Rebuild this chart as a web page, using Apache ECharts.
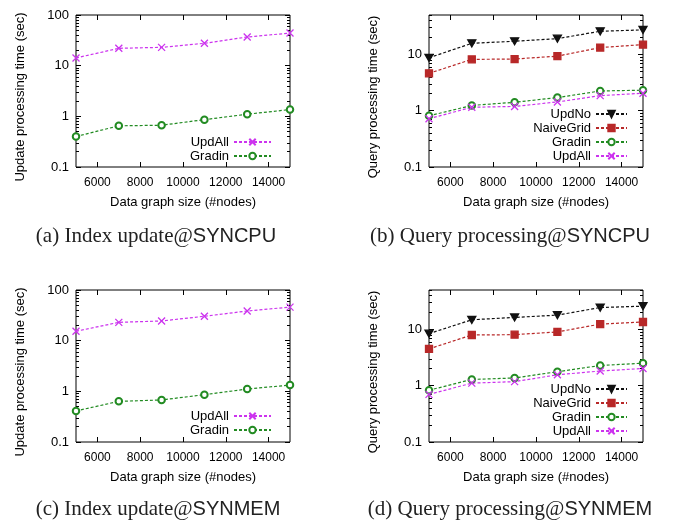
<!DOCTYPE html>
<html><head><meta charset="utf-8">
<script src="https://cdn.jsdelivr.net/npm/echarts@6/dist/echarts.min.js"></script>
<style>html,body{margin:0;padding:0;background:#fff}#c{width:673px;height:524px}</style>
</head><body><div id="c"></div>
<script>
const xNodes = [5000, 7000, 9000, 11000, 13000, 15000];
const xTickLabels = [6000, 8000, 10000, 12000, 14000];
const yMajorTicks = [0.1, 1, 10, 100];
const yMinorTicks = [0.2,0.3,0.4,0.5,0.6,0.7,0.8,0.9,2,3,4,5,6,7,8,9,20,30,40,50,60,70,80,90];

// (a) Index update@SYNCPU
const aUpdAll = [14.2, 22, 23, 27.6, 36.8, 44];
const aGradin = [0.40, 0.65, 0.667, 0.86, 1.10, 1.36];
// (b) Query processing@SYNCPU
const bUpdNo = [8.7, 15.7, 17.1, 19.0, 25.7, 27.2];
const bNaiveGrid = [4.6, 8.15, 8.26, 9.3, 13.2, 14.9];
const bGradin = [0.81, 1.24, 1.41, 1.71, 2.24, 2.31];
const bUpdAll = [0.72, 1.15, 1.19, 1.43, 1.85, 2.04];
// (c) Index update@SYNMEM
const cUpdAll = [15.3, 23, 24.5, 30.3, 38.5, 46];
const cGradin = [0.41, 0.635, 0.675, 0.86, 1.11, 1.33];
// (d) Query processing@SYNMEM
const dUpdNo = [8.4, 14.8, 16.3, 17.9, 24.4, 25.8];
const dNaiveGrid = [4.5, 7.95, 8.05, 9.0, 12.4, 13.5];
const dGradin = [0.83, 1.29, 1.37, 1.77, 2.28, 2.51];
const dUpdAll = [0.70, 1.11, 1.18, 1.56, 1.82, 2.02];

const SANS = 'Liberation Sans';
const STY = {
  UpdAll: {color: '#cc33ee', symbol: 'path://M0,0L10,10M10,0L0,10', size: 7},
  Gradin: {color: '#228b22', symbol: 'emptyCircle', size: 6.5},
  UpdNo: {color: '#111111', symbol: 'path://M0,0L10,0L5,9Z', size: [8, 7]},
  NaiveGrid: {color: '#b82828', symbol: 'rect', size: 7}
};

const panels = [
  {grid: {left: 76, top: 15}, ymax: 100, yName: 'Update processing time (sec)',
   series: [['UpdAll', aUpdAll], ['Gradin', aGradin]],
   legend: {right: 401, top: 135}, iw: 37,
   cap: ['(a) Index update@', 'SYNCPU'], capPos: [156, 226]},
  {grid: {left: 429, top: 15}, ymax: 50, yName: 'Query processing time (sec)',
   series: [['UpdNo', bUpdNo], ['NaiveGrid', bNaiveGrid], ['Gradin', bGradin], ['UpdAll', bUpdAll]],
   legend: {right: 45, top: 107}, iw: 31,
   cap: ['(b) Query processing@', 'SYNCPU'], capPos: [510, 226]},
  {grid: {left: 76, top: 290}, ymax: 100, yName: 'Update processing time (sec)',
   series: [['UpdAll', cUpdAll], ['Gradin', cGradin]],
   legend: {right: 401, top: 409}, iw: 37,
   cap: ['(c) Index update@', 'SYNMEM'], capPos: [158, 499]},
  {grid: {left: 429, top: 290}, ymax: 50, yName: 'Query processing time (sec)',
   series: [['UpdNo', dUpdNo], ['NaiveGrid', dNaiveGrid], ['Gradin', dGradin], ['UpdAll', dUpdAll]],
   legend: {right: 45, top: 382}, iw: 31,
   cap: ['(d) Query processing@', 'SYNMEM'], capPos: [510, 499]}
];

const option = {
  animation: false,
  textStyle: {fontFamily: SANS},
  grid: [], xAxis: [], yAxis: [], series: [], legend: [], title: []
};

panels.forEach((p, k) => {
  option.grid.push({left: p.grid.left, top: p.grid.top, width: 214, height: 152,
    show: true, borderColor: '#000', borderWidth: 1, backgroundColor: 'transparent',
    outerBoundsMode: 'none', containLabel: false});
  const xBase = {type: 'value', gridIndex: k, min: 5000, max: 15000,
    splitLine: {show: false}, axisLine: {show: false}};
  option.xAxis.push(Object.assign({}, xBase, {position: 'bottom',
    name: 'Data graph size (#nodes)', nameLocation: 'middle', nameGap: 29,
    nameTextStyle: {fontSize: 13, color: '#000', fontFamily: SANS},
    axisLabel: {customValues: xTickLabels, fontSize: 12, color: '#000', margin: 10, fontFamily: SANS,
      formatter: v => String(v)},
    axisTick: {customValues: xTickLabels, inside: true, length: 5, lineStyle: {color: '#000'}}}));
  option.xAxis.push(Object.assign({}, xBase, {position: 'top',
    axisLabel: {show: false},
    axisTick: {customValues: xTickLabels, inside: true, length: 5, lineStyle: {color: '#000'}}}));
  const yBase = {type: 'log', logBase: 10, gridIndex: k, min: 0.1, max: p.ymax,
    splitLine: {show: false}, axisLine: {show: false}};
  option.yAxis.push(Object.assign({}, yBase, {position: 'left',
    name: p.yName, nameLocation: 'middle', nameGap: 49, nameRotate: 90,
    nameTextStyle: {fontSize: 13, color: '#000', fontFamily: SANS, padding: [0, 12, 0, 0]},
    axisLabel: {customValues: yMajorTicks, fontSize: 13, color: '#000', margin: 7, fontFamily: SANS,
      formatter: v => String(+(+v).toPrecision(3))},
    axisTick: {customValues: yMajorTicks, inside: true, length: 5, lineStyle: {color: '#000'}}}));
  option.yAxis.push(Object.assign({}, yBase, {position: 'left', axisLabel: {show: false},
    axisTick: {customValues: yMinorTicks, inside: true, length: 3, lineStyle: {color: '#000'}}}));
  option.yAxis.push(Object.assign({}, yBase, {position: 'right', axisLabel: {show: false},
    axisTick: {customValues: yMajorTicks, inside: true, length: 5, lineStyle: {color: '#000'}}}));
  option.yAxis.push(Object.assign({}, yBase, {position: 'right', axisLabel: {show: false},
    axisTick: {customValues: yMinorTicks, inside: true, length: 3, lineStyle: {color: '#000'}}}));

  p.series.forEach(([name, vals]) => {
    const s = STY[name];
    option.series.push({
      type: 'line', name: name, xAxisIndex: 2 * k, yAxisIndex: 4 * k,
      data: xNodes.map((x, i) => [x, vals[i]]),
      symbol: s.symbol, symbolSize: s.size, showAllSymbol: true,
      lineStyle: {color: s.color, width: 1.2, type: [3, 2]},
      itemStyle: {color: s.color, borderColor: s.color, borderWidth: 1.3},
      z: 3
    });
  });

  option.legend.push({
    orient: 'vertical', align: 'right', right: p.legend.right, top: p.legend.top,
    data: p.series.map(s => s[0]), itemWidth: p.iw, itemHeight: 8, itemGap: 0,
    padding: 0, selectedMode: false,
    textStyle: {fontSize: 13, color: '#000', fontFamily: SANS, lineHeight: 14}
  });

  option.title.push({
    text: '{s|' + p.cap[0] + '}{h|' + p.cap[1] + '}',
    left: p.capPos[0], top: p.capPos[1], textAlign: 'center', padding: 0,
    textStyle: {fontWeight: 'normal', rich: {
      s: {fontFamily: 'Liberation Serif', fontSize: 21, color: '#222', fontWeight: 'normal'},
      h: {fontFamily: SANS, fontSize: 20, color: '#222', fontWeight: 'normal'}
    }}
  });
});

const chart = echarts.init(document.getElementById('c'), null, {renderer: 'canvas'});
chart.setOption(option);
</script></body></html>
